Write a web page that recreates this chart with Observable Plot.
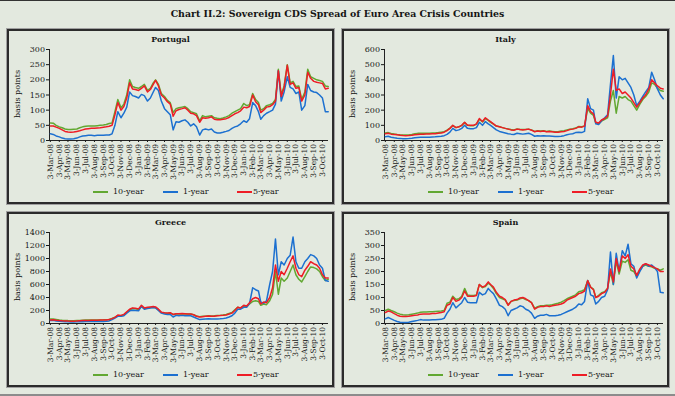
<!DOCTYPE html>
<html><head><meta charset="utf-8">
<script src="https://cdn.jsdelivr.net/npm/d3@7"></script>
<script src="https://cdn.jsdelivr.net/npm/@observablehq/plot@0.6"></script>
<style>
html,body{margin:0;padding:0;background:#e3e9df;}
#root{position:relative;width:675px;height:396px;background:#e3e9df;overflow:hidden;font-family:"DejaVu Serif",serif;color:#151515;box-sizing:border-box;border-top:1px solid #333;border-bottom:2px solid #8c8c8c;}
.title{position:absolute;left:0;top:7px;width:675px;text-align:center;font-weight:bold;font-size:9.4px;line-height:11px;}
.panel{position:absolute;width:327px;height:175px;box-sizing:border-box;border:2px solid #2b2b2b;box-shadow:0 0 0 1px #a0a0a0;}
.panel svg{position:absolute;left:0;top:0;}
.ptitle{position:absolute;left:0;top:3px;width:323px;text-align:center;font-weight:bold;font-size:8px;line-height:10px;}
.ylab{position:absolute;left:-41px;top:58px;width:100px;height:10px;line-height:10px;text-align:center;font-size:8px;transform:rotate(-90deg);}
.sw{position:absolute;height:2px;top:160px;width:15px;}
.lt{position:absolute;top:155px;font-size:8px;line-height:11px;white-space:nowrap;}
</style>
</head><body><div id="root"><div class="title">Chart II.2: Sovereign CDS Spread of Euro Area Crisis Countries</div></div>
<script>
// ---- categories / tick labels ----
const tickLabels = ["3-Mar-08","3-Apr-08","3-May-08","3-Jun-08","3-Jul-08","3-Aug-08","3-Sep-08","3-Oct-08","3-Nov-08","3-Dec-08","3-Jan-09","3-Feb-09","3-Mar-09","3-Apr-09","3-May-09","3-Jun-09","3-Jul-09","3-Aug-09","3-Sep-09","3-Oct-09","3-Nov-09","3-Dec-09","3-Jan-10","3-Feb-10","3-Mar-10","3-Apr-10","3-May-10","3-Jun-10","3-Jul-10","3-Aug-10","3-Sep-10","3-Oct-10"];
const obsDays = [3, 13, 23];
const seriesNames = ["10-year", "1-year", "5-year"];
const seriesColors = ["#62a832", "#1c70d0", "#ee1d26"];
const countries = ["Portugal", "Italy", "Greece", "Spain"];
const yTicksPortugal = [0, 50, 100, 150, 200, 250, 300];
const yTicksItaly = [0, 100, 200, 300, 400, 500, 600];
const yTicksGreece = [0, 200, 400, 600, 800, 1000, 1200, 1400];
const yTicksSpain = [0, 50, 100, 150, 200, 250, 300, 350];

// ---- series values (basis points), 3 observations per month ----
const portugal10 = [58,57,50, 45,42,38, 36,36,37, 38,42,45, 47,48,48, 48,49,50, 51,53,56, 58,95,135, 108,120,150, 200,178,175, 172,178,185, 165,172,190, 200,185,155, 145,132,125, 92,105,108, 110,112,105, 95,92,88, 65,82,78, 80,82,75, 73,72,74, 78,82,90, 95,100,105, 122,115,118, 155,135,125, 100,105,115, 118,122,135, 235,150,180, 250,190,195, 178,180,135, 160,235,210, 205,200,198, 195,180,178];
const portugal1 = [22,20,15, 12,8,6, 5,5,6, 8,12,15, 16,17,17, 16,17,17, 17,18,18, 22,50,95, 75,90,110, 160,148,145, 140,152,148, 130,140,160, 175,165,130, 105,95,85, 35,62,60, 65,68,60, 48,55,45, 18,35,38, 35,38,28, 25,25,27, 30,33,40, 45,48,55, 65,60,72, 125,115,95, 70,82,90, 95,100,120, 230,130,160, 210,175,170, 155,160,100, 115,185,165, 160,158,150, 140,95,95];
const portugal5 = [48,48,44, 40,35,30, 28,27,28, 30,32,35, 38,39,40, 40,41,42, 44,45,47, 50,85,125, 100,112,140, 190,170,168, 165,172,180, 160,168,185, 198,180,150, 140,128,120, 80,98,102, 105,108,100, 90,88,82, 60,75,73, 75,78,70, 68,68,70, 72,76,82, 88,92,98, 110,108,112, 150,128,118, 92,100,110, 112,118,130, 230,145,175, 248,185,190, 172,175,130, 150,225,205, 195,192,190, 188,170,172];

const italy10 = [50,52,47, 43,40,38, 37,36,37, 40,45,47, 48,48,48, 48,49,50, 52,55,58, 68,82,98, 85,90,100, 118,100,98, 98,108,140, 122,145,132, 120,108,95, 90,85,80, 76,72,70, 76,73,72, 72,75,70, 60,65,62, 64,60,62, 60,58,58, 62,65,70, 75,78,82, 92,90,95, 210,180,165, 115,110,128, 140,150,260, 330,180,290, 280,290,270, 260,230,200, 240,270,290, 320,380,370, 345,330,325];
const italy1 = [25,28,22, 18,15,14, 12,12,13, 15,18,20, 22,22,22, 22,23,24, 26,28,32, 40,55,80, 65,70,80, 100,80,78, 78,85,120, 100,125,110, 100,85,70, 60,55,50, 45,42,40, 48,45,42, 45,48,40, 28,32,30, 32,30,30, 28,26,27, 28,32,38, 42,45,52, 55,52,60, 275,210,200, 110,105,130, 150,170,370, 560,280,420, 400,410,380, 350,300,230, 260,290,320, 350,450,400, 340,300,275];
const italy5 = [45,48,42, 40,38,35, 33,32,33, 35,38,40, 42,42,43, 43,44,45, 48,50,55, 65,80,100, 85,90,100, 120,100,100, 100,110,145, 125,150,135, 125,110,95, 90,85,80, 75,70,68, 75,72,70, 72,75,68, 58,62,60, 62,58,60, 58,55,55, 58,60,65, 72,75,80, 90,88,95, 230,190,175, 120,115,135, 145,160,300, 470,330,340, 310,320,300, 280,250,220, 250,280,300, 340,400,380, 360,345,340];

const greece10 = [70,68,62, 55,50,48, 45,44,44, 46,48,50, 52,52,53, 53,54,55, 56,58,62, 78,95,120, 118,130,170, 210,230,225, 215,260,230, 240,245,250, 245,210,170, 160,155,160, 140,145,148, 150,148,145, 145,135,115, 105,110,112, 118,115,118, 122,125,130, 140,155,170, 210,250,235, 270,260,300, 340,350,340, 280,300,290, 350,450,800, 450,700,650, 700,800,900, 750,680,640, 720,800,870, 860,840,800, 720,660,680];
const greece1 = [45,48,40, 35,30,28, 25,24,24, 25,27,28, 30,30,30, 30,30,31, 32,34,40, 60,85,110, 110,120,160, 195,205,200, 195,265,220, 230,240,245, 240,200,160, 145,140,140, 100,125,120, 125,120,118, 120,100,80, 60,65,70, 72,68,70, 70,72,75, 85,100,120, 160,220,220, 250,250,310, 550,520,500, 330,310,350, 600,800,1300, 750,950,900, 1000,1050,1330, 950,850,850, 950,1000,1060, 1040,1000,900, 850,660,650];
const greece5 = [55,58,50, 45,42,40, 37,35,35, 37,42,45, 48,48,50, 50,50,52, 52,55,60, 75,95,130, 125,140,180, 220,240,235, 225,280,240, 250,255,260, 255,220,175, 165,160,165, 140,150,150, 155,150,145, 148,135,110, 100,105,110, 115,110,112, 120,122,125, 130,145,160, 200,250,240, 280,270,320, 380,400,380, 300,330,320, 400,550,900, 650,800,750, 850,950,1040, 850,750,720, 820,880,950, 920,900,850, 750,700,700];

const spain10 = [50,55,50, 45,40,36, 34,33,34, 36,38,40, 43,44,44, 45,45,46, 47,48,50, 78,82,105, 92,95,105, 135,110,108, 108,110,150, 138,142,155, 148,135,115, 100,95,90, 72,85,88, 90,95,98, 92,88,80, 58,65,68, 68,70,70, 72,75,78, 82,88,95, 100,105,110, 122,125,130, 165,140,132, 100,108,118, 122,135,200, 150,240,190, 240,235,245, 205,200,180, 205,220,225, 220,218,212, 210,205,210];
const spain1 = [18,23,18, 12,8,5, 4,4,5, 8,10,12, 15,13,13, 13,14,14, 15,16,20, 40,55,80, 60,70,80, 100,82,80, 80,80,120, 110,115,135, 125,115,95, 70,65,55, 30,50,55, 60,68,65, 55,50,40, 20,28,32, 32,35,30, 30,30,32, 35,40,45, 50,55,62, 75,72,85, 165,110,105, 75,85,100, 105,130,275, 150,270,200, 280,260,305, 230,220,175, 200,220,230, 220,225,215, 200,120,118];
const spain5 = [42,48,45, 38,32,28, 27,27,28, 30,32,33, 36,37,37, 37,38,38, 40,42,45, 70,75,100, 85,90,100, 125,105,105, 105,108,150, 140,145,160, 150,140,120, 105,100,92, 70,85,90, 92,98,100, 95,88,80, 55,62,65, 65,68,65, 68,70,72, 75,80,90, 95,100,105, 115,118,125, 165,140,130, 100,105,115, 120,135,210, 160,250,200, 260,250,265, 220,210,185, 210,225,230, 225,220,215, 210,200,200];

// ---- build tables ----
const parseTick = d3.timeParse("%d-%b-%y");
const tickDates = tickLabels.map(parseTick);
const obsDates = tickDates.flatMap(t => obsDays.map(d => new Date(t.getFullYear(), t.getMonth(), d)));
const xDomain = [new Date(2008, 1, 29), new Date(2010, 9, 24)];

function table(v10, v1, v5) {
  const rows = [];
  [[v10, seriesNames[0]], [v1, seriesNames[1]], [v5, seriesNames[2]]].forEach(([vals, name]) => {
    vals.forEach((v, i) => rows.push({date: obsDates[i], value: v, series: name}));
  });
  return rows;
}

const panels = [
  {name: countries[0], left: 7, top: 29, ticks: yTicksPortugal, rows: table(portugal10, portugal1, portugal5)},
  {name: countries[1], left: 342, top: 29, ticks: yTicksItaly, rows: table(italy10, italy1, italy5)},
  {name: countries[2], left: 7, top: 212, ticks: yTicksGreece, rows: table(greece10, greece1, greece5)},
  {name: countries[3], left: 342, top: 212, ticks: yTicksSpain, rows: table(spain10, spain1, spain5)}
];

const root = document.getElementById("root");
const legendPos = [[84, 104], [154, 174], [228, 244]];

panels.forEach(p => {
  const div = document.createElement("div");
  div.className = "panel";
  div.style.left = p.left + "px";
  div.style.top = (p.top - 1) + "px";
  root.appendChild(div);

  const svg = Plot.plot({
    width: 323, height: 150,
    marginTop: 18, marginBottom: 41, marginLeft: 40, marginRight: 4,
    style: {background: "transparent", fontFamily: "DejaVu Serif", fontSize: "8px", color: "#1a1a1a", overflow: "visible"},
    x: {type: "time", domain: xDomain},
    y: {domain: [0, p.ticks[p.ticks.length - 1]]},
    color: {domain: seriesNames, range: seriesColors},
    marks: [
      Plot.ruleY([0], {stroke: "#222", strokeWidth: 1}),
      Plot.ruleX([xDomain[0]], {stroke: "#222", strokeWidth: 1}),
      Plot.lineY(p.rows, {x: "date", y: "value", stroke: "series", strokeWidth: 1.5}),
      Plot.axisY({ticks: p.ticks, tickFormat: d => String(d), tickSize: 3, tickPadding: 1.5, label: null, fontSize: 8}),
      Plot.axisX({ticks: tickDates, tickFormat: d3.timeFormat("%-d-%b-%y"), tickRotate: -90, tickSize: 2, tickPadding: 1.5, label: null, fontSize: 7.5})
    ]
  });
  div.appendChild(svg);

  const t = document.createElement("div");
  t.className = "ptitle"; t.textContent = p.name; div.appendChild(t);
  const yl = document.createElement("div");
  yl.className = "ylab"; yl.textContent = "basis points"; div.appendChild(yl);

  seriesNames.forEach((s, i) => {
    const sw = document.createElement("div");
    sw.className = "sw"; sw.style.left = legendPos[i][0] + "px"; sw.style.background = seriesColors[i];
    div.appendChild(sw);
    const lt = document.createElement("div");
    lt.className = "lt"; lt.style.left = legendPos[i][1] + "px"; lt.textContent = s;
    div.appendChild(lt);
  });
});
</script></body></html>
